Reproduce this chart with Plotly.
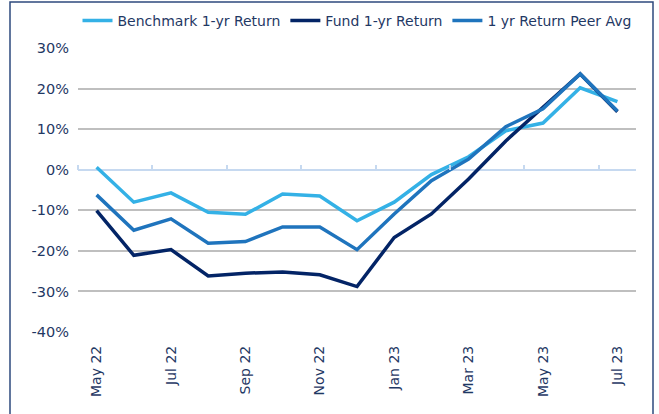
import plotly.graph_objects as go

months = ["May 22", "Jun 22", "Jul 22", "Aug 22", "Sep 22", "Oct 22", "Nov 22", "Dec 22",
          "Jan 23", "Feb 23", "Mar 23", "Apr 23", "May 23", "Jun 23", "Jul 23"]
benchmark = [0.6, -8.0, -5.7, -10.5, -11.0, -6.0, -6.5, -12.6, -8.0, -1.2, 3.2, 9.6, 11.5, 20.2, 16.8]
fund = [-10.1, -21.1, -19.7, -26.2, -25.5, -25.2, -25.9, -28.8, -16.7, -10.9, -2.3, 7.1, 15.4, 23.6, 14.3]
peer = [-6.2, -14.9, -12.1, -18.1, -17.7, -14.1, -14.1, -19.7, -10.9, -2.7, 2.6, 10.6, 15.0, 23.6, 14.5]

series_names = ["Benchmark 1-yr Return", "Fund 1-yr Return", "1 yr Return Peer Avg"]
colors = ["#34b1e6", "#032466", "#1f74bd"]
y_ticks = [-40, -30, -20, -10, 0, 10, 20, 30]
y_tick_labels = ["-40%", "-30%", "-20%", "-10%", "0%", "10%", "20%", "30%"]
x_label_ticks = months[::2]

FONT = "DejaVu Sans"
TEXT = "#1f3864"

fig = go.Figure()
for name, vals, col in zip(series_names, [benchmark, fund, peer], colors):
    fig.add_trace(go.Scatter(x=months, y=vals, name=name, mode="lines",
                             line=dict(color=col, width=3.5)))

# tick marks on the zero line at category boundaries
boundaries = [i - 0.5 for i in range(0, len(months), 2)]

fig.update_layout(
    width=659, height=414,
    margin=dict(l=78, r=23, t=48, b=82, autoexpand=False),
    paper_bgcolor="white", plot_bgcolor="white",
    font=dict(family=FONT, color=TEXT, size=14),
    showlegend=True,
    legend=dict(orientation="h", x=0.5, xanchor="center", y=1.095, yanchor="middle",
                font=dict(size=14, color=TEXT), itemwidth=30, tracegroupgap=0),
    xaxis=dict(type="category", tickmode="array", tickvals=x_label_ticks,
               tickangle=-90, showgrid=False, showline=False, zeroline=False,
               ticks="", ticklabelstandoff=10, tickfont=dict(size=14, color=TEXT),
               range=[-0.5, len(months) - 0.5], automargin=False),
    xaxis2=dict(overlaying="x", anchor="free", position=40 / 70, side="top",
                range=[-0.5, len(months) - 0.5], tickmode="array", tickvals=boundaries,
                ticks="outside", ticklen=5, tickwidth=1.5, tickcolor="#c6d9f0",
                showticklabels=False, showgrid=False, showline=False, zeroline=False,
                automargin=False),
    yaxis=dict(range=[-40, 30], tickmode="array", tickvals=y_ticks, ticktext=y_tick_labels,
               showgrid=True, gridcolor="#bfbfbf", gridwidth=1.5,
               zeroline=True, zerolinecolor="#c6d9f0", zerolinewidth=2,
               showline=False, ticks="", ticklabelstandoff=8,
               tickfont=dict(size=14.5, color=TEXT), automargin=False),
    shapes=[dict(type="rect", xref="paper", yref="paper",
                 x0=(10 - 78) / 558, x1=(653 - 78) / 558,
                 y0=(332 - 440) / 284, y1=(332 - 2) / 284,
                 line=dict(color="#2e4a7d", width=1.5), fillcolor="rgba(0,0,0,0)", layer="below")],
)
# invisible trace to activate xaxis2
fig.add_trace(go.Scatter(x=[0], y=[0], xaxis="x2", mode="markers", marker=dict(opacity=0),
                         showlegend=False, hoverinfo="skip"))

fig.write_html("out.html", config={"displayModeBar": False},
               post_script="document.body.style.margin='0';")
